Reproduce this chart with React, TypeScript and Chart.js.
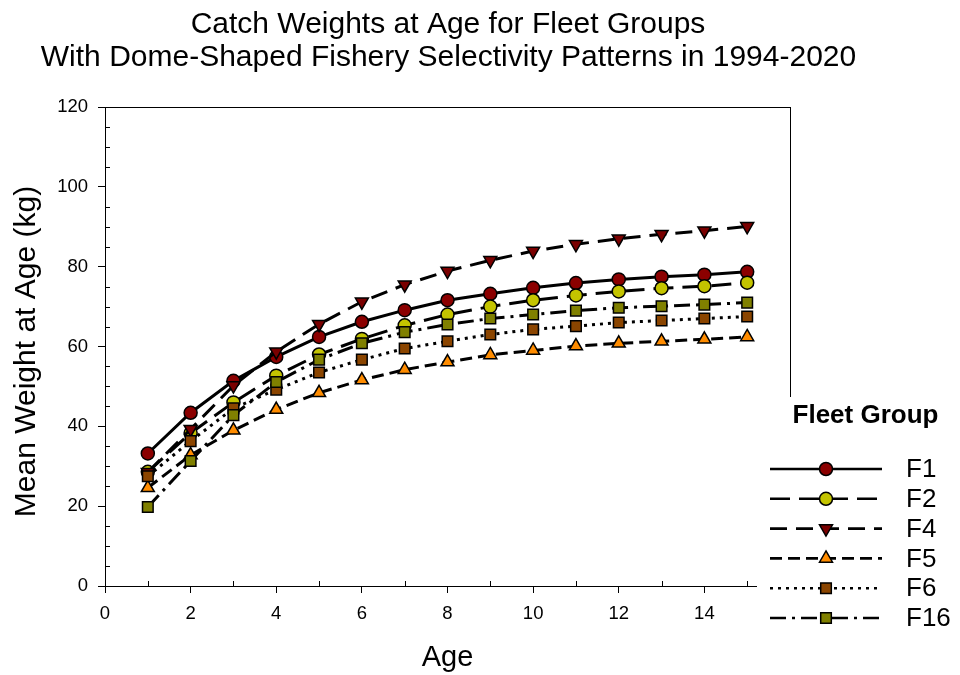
import React, { useEffect, useRef } from 'react';
import { Chart, registerables } from 'chart.js';

Chart.register(...registerables);

// ---------- data ----------
const ages = [1, 2, 3, 4, 5, 6, 7, 8, 9, 10, 11, 12, 13, 14, 15];
const seriesNames = ['F1', 'F2', 'F4', 'F5', 'F6', 'F16'];
const f1 = [33.2, 43.4, 51.4, 57.4, 62.4, 66.2, 69.1, 71.6, 73.2, 74.7, 75.9, 76.8, 77.5, 78.0, 78.7];
const f2 = [28.6, 38.3, 46.0, 52.7, 58.0, 61.9, 65.3, 68.0, 70.0, 71.6, 72.8, 73.8, 74.6, 75.1, 76.0];
const f4 = [28.5, 39.3, 50.2, 58.7, 65.6, 71.2, 75.5, 78.9, 81.6, 83.9, 85.6, 87.0, 88.1, 89.0, 90.1];
const f5 = [24.6, 32.8, 39.0, 44.2, 48.4, 51.6, 54.2, 56.1, 57.9, 59.0, 60.1, 60.8, 61.3, 61.8, 62.4];
const f6 = [27.5, 36.3, 44.5, 49.2, 53.5, 56.7, 59.5, 61.3, 63.0, 64.3, 65.1, 66.0, 66.5, 67.0, 67.5];
const f16 = [19.8, 31.3, 42.8, 51.1, 56.7, 60.8, 63.6, 65.5, 67.0, 68.0, 69.0, 69.7, 70.1, 70.5, 71.0];
const seriesValues = [f1, f2, f4, f5, f6, f16];

const xTickValues = [0, 2, 4, 6, 8, 10, 12, 14];
const yTickValues = [0, 20, 40, 60, 80, 100, 120];
const titleLines = [
  'Catch Weights at Age for Fleet Groups',
  'With Dome-Shaped Fishery Selectivity Patterns in 1994-2020',
];
const xAxisTitle = 'Age';
const yAxisTitle = 'Mean Weight at Age (kg)';
const legendTitle = 'Fleet Group';

// ---------- styles ----------
const FONT = "'Liberation Sans', Arial, sans-serif";
const styles = [
  { color: '#8B0000', shape: 'circle', radius: 6.5, rotation: 0, dash: [] as number[] },
  { color: '#C4C400', shape: 'circle', radius: 6.5, rotation: 0, dash: [20, 9] },
  { color: '#7A0000', shape: 'triangle', radius: 7.5, rotation: 180, dash: [17, 9] },
  { color: '#FF8C00', shape: 'triangle', radius: 7.5, rotation: 0, dash: [12, 6] },
  { color: '#8B4500', shape: 'rect', radius: 7.5, rotation: 0, dash: [3, 5] },
  { color: '#808000', shape: 'rect', radius: 7.5, rotation: 0, dash: [16, 6, 3, 6] },
];

function drawMarker(ctx: CanvasRenderingContext2D, shape: string, x: number, y: number, r: number, rot: number, color: string) {
  ctx.save();
  ctx.setLineDash([]);
  ctx.fillStyle = color;
  ctx.strokeStyle = '#000';
  ctx.lineWidth = 1.5;
  ctx.beginPath();
  if (shape === 'circle') {
    ctx.arc(x, y, r, 0, Math.PI * 2);
  } else if (shape === 'rect') {
    const s = r / Math.SQRT2;
    ctx.rect(x - s, y - s, 2 * s, 2 * s);
  } else {
    const base = (rot * Math.PI) / 180;
    for (let k = 0; k < 3; k++) {
      const a = base - Math.PI / 2 + (k * 2 * Math.PI) / 3;
      const px = x + Math.cos(a) * r;
      const py = y + Math.sin(a) * r;
      if (k === 0) ctx.moveTo(px, py);
      else ctx.lineTo(px, py);
    }
    ctx.closePath();
  }
  ctx.fill();
  ctx.stroke();
  ctx.restore();
}

const decorPlugin = {
  id: 'decor',
  beforeDraw(chart: any) {
    const ctx = chart.ctx;
    ctx.save();
    ctx.fillStyle = '#fff';
    ctx.fillRect(0, 0, chart.width, chart.height);
    ctx.restore();
  },
  afterDraw(chart: any) {
    const { ctx, chartArea: a } = chart;
    const xs = chart.scales.x;
    const ys = chart.scales.y;
    ctx.save();
    ctx.strokeStyle = '#000';
    ctx.lineWidth = 1;
    ctx.setLineDash([]);
    // frame (top + right)
    ctx.beginPath();
    ctx.moveTo(a.left, Math.round(a.top) + 0.5);
    ctx.lineTo(a.right + 1, Math.round(a.top) + 0.5);
    ctx.moveTo(Math.round(a.right) + 0.5, a.top);
    ctx.lineTo(Math.round(a.right) + 0.5, a.bottom);
    ctx.stroke();
    // minor ticks (inside)
    ctx.beginPath();
    for (let v = 5; v < 120; v += 5) {
      if (v % 20 === 0) continue;
      const py = Math.round(ys.getPixelForValue(v)) + 0.5;
      ctx.moveTo(a.left, py);
      ctx.lineTo(a.left + 5, py);
    }
    for (let v = 1; v < 16; v += 2) {
      const px = Math.round(xs.getPixelForValue(v)) + 0.5;
      ctx.moveTo(px, a.bottom);
      ctx.lineTo(px, a.bottom - 5);
    }
    ctx.stroke();

    // titles
    ctx.fillStyle = '#000';
    ctx.textAlign = 'center';
    ctx.textBaseline = 'alphabetic';
    ctx.font = `30px ${FONT}`;
    ctx.fillText(titleLines[0], 448, 33);
    ctx.fillText(titleLines[1], 448.5, 65.5);
    ctx.font = `29px ${FONT}`;
    ctx.fillText(xAxisTitle, 447.5, 666);
    ctx.save();
    ctx.translate(35, 351.5);
    ctx.rotate(-Math.PI / 2);
    ctx.font = `30px ${FONT}`;
    ctx.fillText(yAxisTitle, 0, 0);
    ctx.restore();

    // legend box
    ctx.fillStyle = '#fff';
    ctx.fillRect(757, 397, 203, 278);
    ctx.fillStyle = '#000';
    ctx.textBaseline = 'middle';
    ctx.font = `bold 26px ${FONT}`;
    ctx.textAlign = 'center';
    ctx.fillText(legendTitle, 865.5, 416);
    ctx.textAlign = 'left';
    ctx.font = `26px ${FONT}`;
    seriesNames.forEach((name, i) => {
      const st = styles[i];
      const ly = 469 + i * 29.8;
      ctx.save();
      ctx.strokeStyle = '#000';
      ctx.lineWidth = 2.6;
      ctx.setLineDash(st.dash);
      ctx.beginPath();
      ctx.moveTo(770, ly);
      ctx.lineTo(882, ly);
      ctx.stroke();
      ctx.restore();
      drawMarker(ctx, st.shape, 826, ly, st.radius, st.rotation, st.color);
      ctx.fillStyle = '#000';
      ctx.fillText(name, 906, ly + 1);
    });
    ctx.restore();
  },
};

export default function App() {
  const ref = useRef<HTMLCanvasElement | null>(null);
  useEffect(() => {
    document.body.style.margin = '0';
    const canvas = ref.current;
    if (!canvas) return;
    const datasets = seriesNames.map((name, i) => ({
      label: name,
      data: ages.map((a, j) => ({ x: a, y: seriesValues[i][j] })),
      borderColor: '#000',
      borderWidth: 3,
      borderDash: styles[i].dash,
      backgroundColor: styles[i].color,
      pointStyle: styles[i].shape,
      pointRadius: styles[i].radius,
      pointRotation: styles[i].rotation,
      pointBackgroundColor: styles[i].color,
      pointBorderColor: '#000',
      pointBorderWidth: 1.5,
      tension: 0,
      fill: false,
      order: seriesNames.length - i,
    }));
    const chart = new Chart(canvas, {
      type: 'line',
      data: { datasets },
      plugins: [decorPlugin],
      options: {
        animation: false,
        responsive: false,
        devicePixelRatio: 1,
        layout: { padding: { top: 107, right: 170, left: 0, bottom: 0 } },
        plugins: { legend: { display: false }, tooltip: { enabled: false }, title: { display: false } },
        scales: {
          x: {
            type: 'linear',
            min: 0,
            max: 16,
            afterFit: (s: any) => { s.height = 89; },
            afterBuildTicks: (s: any) => { s.ticks = xTickValues.map((v) => ({ value: v })); },
            ticks: {
              color: '#000',
              font: { family: FONT, size: 18.5 },
              padding: 10,
              maxRotation: 0,
              autoSkip: false,
            },
            grid: { display: true, drawOnChartArea: false, drawTicks: true, tickLength: 7, color: '#000', lineWidth: 1 },
            border: { display: true, color: '#000', width: 1 },
          },
          y: {
            type: 'linear',
            min: 0,
            max: 120,
            afterFit: (s: any) => { s.width = 105; },
            afterBuildTicks: (s: any) => { s.ticks = yTickValues.map((v) => ({ value: v })); },
            ticks: {
              color: '#000',
              font: { family: FONT, size: 18.5 },
              padding: 10,
              autoSkip: false,
            },
            grid: { display: true, drawOnChartArea: false, drawTicks: true, tickLength: 7, color: '#000', lineWidth: 1 },
            border: { display: true, color: '#000', width: 1 },
          },
        },
      },
    } as any);
    return () => chart.destroy();
  }, []);
  return <canvas ref={ref} width={960} height={675} style={{ display: 'block', width: 960, height: 675 }} />;
}
